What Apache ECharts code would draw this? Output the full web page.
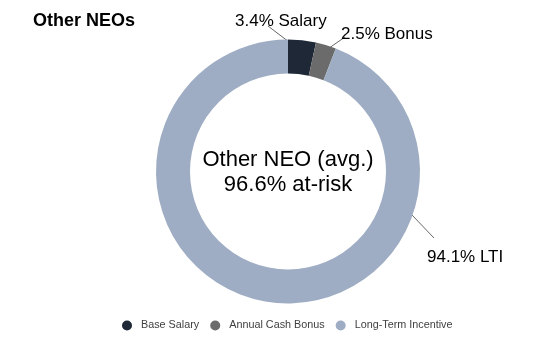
<!DOCTYPE html>
<html>
<head>
<meta charset="utf-8">
<script src="https://cdn.jsdelivr.net/npm/echarts@6/dist/echarts.min.js"></script>
<style>
  html, body { margin: 0; padding: 0; background: #fff; }
  #root { width: 555px; height: 359px; }
</style>
</head>
<body>
<div id="root"></div>
<script>
var categories = ['Base Salary', 'Annual Cash Bonus', 'Long-Term Incentive']
var shortNames = ['Salary', 'Bonus', 'LTI']
var values = [3.4, 2.5, 94.1]
var colors = ['#1e2836', '#6b6b6b', '#9eadc3']

// label box (left/top) and its leader line: from inside the slice to the text
var labelSpots = [
  { x: 235, y: 13, line: [[293, 45], [268, 26]] },
  { x: 341, y: 26, line: [[322, 53], [345, 37]] },
  { x: 427, y: 249, line: [[412, 215], [434, 238]] }
]

var chart = echarts.init(document.getElementById('root'))

var data = categories.map(function (c, i) {
  return { name: c, value: values[i], itemStyle: { color: colors[i] } }
})

chart.setOption({
  animation: false,
  title: {
    text: 'Other NEOs',
    left: 28,
    top: 7,
    textStyle: { fontFamily: 'Liberation Sans', fontWeight: 'bold', fontSize: 18, color: '#000' }
  },
  legend: {
    data: categories,
    left: 117,
    top: 315,
    icon: 'circle',
    itemWidth: 18,
    itemHeight: 10,
    itemGap: 11,
    textStyle: { fontFamily: 'Liberation Sans', fontSize: 10.8, color: '#404040' }
  },
  graphic: [{
    type: 'text',
    x: 288,
    y: 147,
    z: 100,
    style: {
      text: 'Other NEO (avg.)\n96.6% at-risk',
      fontFamily: 'Liberation Sans',
      fontSize: 22,
      lineHeight: 25,
      align: 'center',
      textAlign: 'center',
      verticalAlign: 'top',
      fill: '#000'
    }
  }],
  series: [{
    type: 'pie',
    center: [288, 171.5],
    radius: [98, 132],
    startAngle: 90,
    clockwise: true,
    data: data,
    label: {
      show: true,
      formatter: function (p) { return p.value + '% ' + shortNames[p.dataIndex] },
      fontFamily: 'Liberation Sans',
      fontSize: 17,
      color: '#000'
    },
    labelLine: {
      show: true,
      length: 10,
      length2: 0,
      lineStyle: { color: '#666', width: 1 }
    },
    labelLayout: function (p) {
      var s = labelSpots[p.dataIndex]
      return {
        x: s.x,
        y: s.y,
        align: 'left',
        verticalAlign: 'top',
        labelLinePoints: [s.line[0], s.line[0], s.line[1]]
      }
    }
  }]
})
</script>
</body>
</html>
